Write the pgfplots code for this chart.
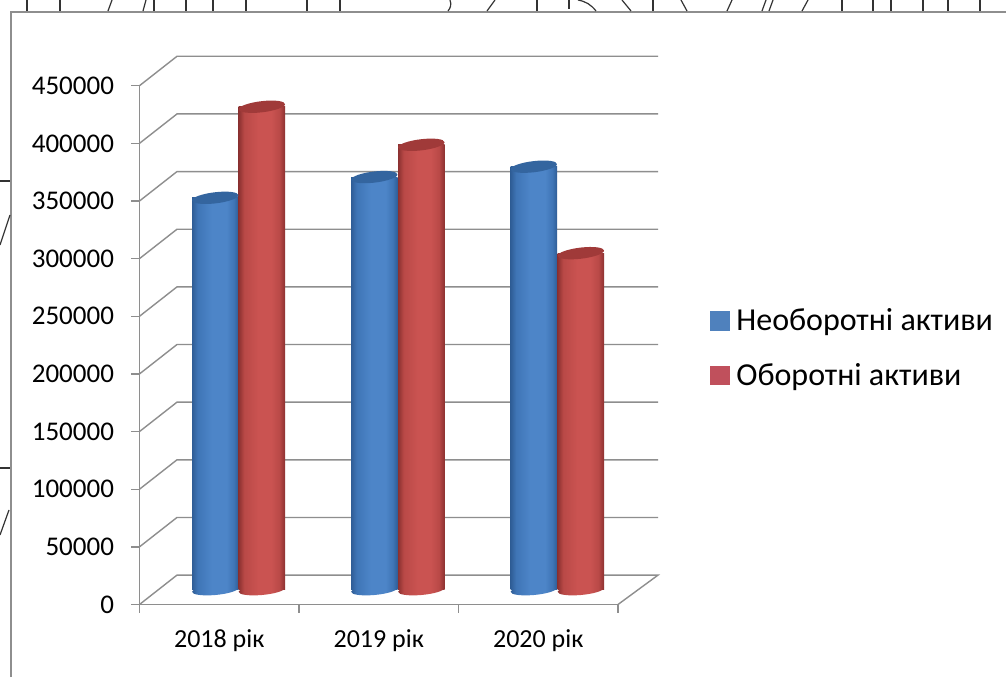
\documentclass[border=0pt]{standalone}
\usepackage{fontspec}
\setmainfont{Carlito}
\usepackage{pgfplots}
\pgfplotsset{compat=1.18}

\definecolor{gridgray}{HTML}{8E8E8E}
\definecolor{capblue}{HTML}{34659F}
\definecolor{capred}{HTML}{A03A39}
\definecolor{keyblue}{HTML}{4F81BD}
\definecolor{keyred}{HTML}{C0505C}
\definecolor{bluerim}{HTML}{2F5D96}
\definecolor{bluemid}{HTML}{3F75B6}
\definecolor{bluelit}{HTML}{4D85C8}
\definecolor{redrim}{HTML}{8C3130}
\definecolor{redmid}{HTML}{B94947}
\definecolor{redlit}{HTML}{CA5351}

% Cylinder body shadings: dark rims, light centre
\pgfdeclarehorizontalshading{cylblue}{100bp}{
  color(0bp)=(bluerim); color(25bp)=(bluerim);
  color(31bp)=(bluemid); color(46bp)=(bluelit); color(62bp)=(bluelit);
  color(70bp)=(bluemid); color(75bp)=(bluerim); color(100bp)=(bluerim)}
\pgfdeclarehorizontalshading{cylred}{100bp}{
  color(0bp)=(redrim); color(25bp)=(redrim);
  color(31bp)=(redmid); color(46bp)=(redlit); color(60bp)=(redlit);
  color(69bp)=(redmid); color(75bp)=(redrim); color(100bp)=(redrim)}

% Slanted ellipses for the ends of the cylinders
\pgfdeclareplotmark{cyltop}{%
  \pgfpathellipse{\pgfpointorigin}{\pgfqpoint{23.2pt}{2.6pt}}{\pgfqpoint{0pt}{5.6pt}}%
  \pgfusepathqfill}
\pgfdeclareplotmark{cylbaseblue}{%
  \pgfpathellipse{\pgfpointorigin}{\pgfqpoint{23.2pt}{2.0pt}}{\pgfqpoint{0pt}{5.2pt}}%
  \pgfshadepath{cylblue}{0}\pgfusepath{discard}}
\pgfdeclareplotmark{cylbasered}{%
  \pgfpathellipse{\pgfpointorigin}{\pgfqpoint{23.2pt}{2.0pt}}{\pgfqpoint{0pt}{5.2pt}}%
  \pgfshadepath{cylred}{0}\pgfusepath{discard}}

\pgfplotsset{
  cyl body/.style={ybar, bar width=46.5pt, bar shift=0pt, draw=none, shade, shading=#1, forget plot},
}

\begin{document}
\begin{tikzpicture}
\clip (0,0) rectangle (1006pt,677pt);
\fill[white] (0,0) rectangle (1006pt,677pt);

% Sheet border and the ruling that runs past it
\begin{scope}[x=1pt,y=-1pt,yshift=677pt]
  \draw[gridgray,line width=1.4pt] (11,677) -- (11,12) -- (1006,12);
  \begin{scope}[black!80,line width=1.2pt]
    \foreach \px in {27,60,154,186,213,246,307,340,537,653,842,873,891,923,948,980}
      \draw (\px,0) -- (\px,11);
    \draw (112,0) -- (108,11);
    \draw (146,0) -- (143,11);
    \draw (450,0) to[bend left=30] (448,11);
    \draw (495,0) -- (487,11);
    \draw (569,0) -- (569,9);
    \draw (578,0) to[bend left=20] (596,11);
    \draw (622,0) -- (631,11);
    \draw (681,0) -- (687,11);
    \draw (732,0) -- (727,11);
    \draw (766,0) -- (762,11);
    \draw (773,0) -- (769,11);
    \draw (808,0) -- (802,11);
    \draw (0,181) -- (10,181);
    \draw (0,245) -- (10,215);
    \draw (0,468) -- (10,468);
    \draw (0,535) -- (9,510);
  \end{scope}
\end{scope}

\begin{axis}[
  at={(139.5pt,72.5pt)}, anchor=south west,
  scale only axis, width=478.5pt, height=518.8pt,
  clip=false,
  xmin=-0.5, xmax=2.5,
  % the floor sits half a depth below the plane the cylinders stand on
  ymin=-12750, ymax=437250,
  scaled y ticks=false,
  axis lines=left,
  axis line style={-, draw=gridgray, line width=1.4pt},
  tick align=outside,
  ytick={-12750,37250,87250,137250,187250,237250,287250,337250,387250,437250},
  yticklabels={0,50000,100000,150000,200000,250000,300000,350000,400000,450000},
  y tick style={draw=gridgray, line width=1.3pt},
  major tick length=8pt,
  xtick={0,1,2},
  xticklabels={2018 рік,2019 рік,2020 рік},
  x tick style={draw=none},
  extra x ticks={-0.5,0.5,1.5,2.5},
  extra x tick labels={},
  extra x tick style={x tick style={draw=gridgray, line width=1.3pt}},
  tick label style={text=black},
  yticklabel style={font=\fontsize{27}{27}\selectfont, xshift=-14pt},
  xticklabel style={font=\fontsize{26}{26}\selectfont, yshift=-14pt},
  legend style={at={(axis description cs:1.1918,0.4945)}, anchor=west, draw=none, fill=none,
    inner sep=0pt, row sep=31pt, font=\fontsize{32}{32}\selectfont,
    nodes={inner sep=0pt}, cells={anchor=west}},
  legend image code/.code={\fill[#1] (0pt,-9.2pt) rectangle (19pt,9.2pt);},
]
  % back wall gridlines and floor edge
  \addplot[gridgray, line width=1.4pt, unbounded coords=jump, forget plot] coordinates {
    (-0.5,37250) (-0.265,62750) (2.751,62750) (0,nan)
    (-0.5,87250) (-0.265,112750) (2.751,112750) (0,nan)
    (-0.5,137250) (-0.265,162750) (2.751,162750) (0,nan)
    (-0.5,187250) (-0.265,212750) (2.751,212750) (0,nan)
    (-0.5,237250) (-0.265,262750) (2.751,262750) (0,nan)
    (-0.5,287250) (-0.265,312750) (2.751,312750) (0,nan)
    (-0.5,337250) (-0.265,362750) (2.751,362750) (0,nan)
    (-0.5,387250) (-0.265,412750) (2.751,412750) (0,nan)
    (-0.5,437250) (-0.265,462750) (2.751,462750) (0,nan)
    (-0.5,-12750) (-0.265,12750) (2.751,12750) (2.5,-12750)
  };

  % Необоротні активи
  \addplot[cyl body=cylblue] coordinates {(-0.025,340000)};
  \addplot[cyl body=cylblue] coordinates {(0.972,358000)};
  \addplot[cyl body=cylblue] coordinates {(1.972,367000)};
  \addplot[only marks, mark=cylbaseblue, forget plot] coordinates {(-0.025,0) (0.972,0) (1.972,0)};
  \addplot[only marks, mark=cyltop, color=capblue, forget plot] coordinates {(-0.025,340000) (0.972,358000) (1.972,367000)};

  % Оборотні активи
  \addplot[cyl body=cylred] coordinates {(0.267,419000)};
  \addplot[cyl body=cylred] coordinates {(1.267,386000)};
  \addplot[cyl body=cylred] coordinates {(2.267,292000)};
  \addplot[only marks, mark=cylbasered, forget plot] coordinates {(0.267,0) (1.267,0) (2.267,0)};
  \addplot[only marks, mark=cyltop, color=capred, forget plot] coordinates {(0.267,419000) (1.267,386000) (2.267,292000)};

  \addlegendimage{keyblue}
  \addlegendentry{\hspace*{7pt}Необоротні активи}
  \addlegendimage{keyred}
  \addlegendentry{\hspace*{7pt}Оборотні активи}
\end{axis}
\end{tikzpicture}
\end{document}
